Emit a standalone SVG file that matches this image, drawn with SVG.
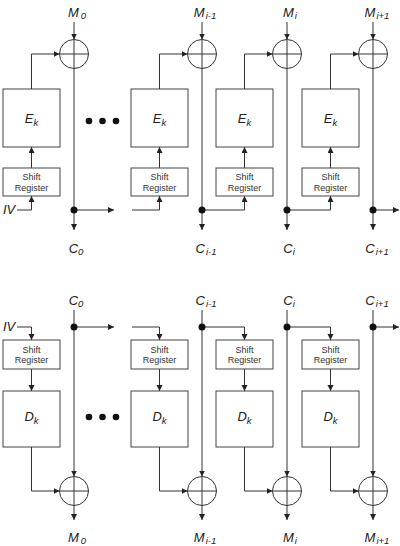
<svg xmlns="http://www.w3.org/2000/svg" width="400" height="546" viewBox="0 0 400 546">
<style>
.ln{fill:none;stroke:#333;stroke-width:1}
.bx{fill:#fff;stroke:#444;stroke-width:1}
.xo{fill:#fff;stroke:#333;stroke-width:1}
.dot{fill:#111}
.lbl{font-family:"Liberation Sans",Arial,sans-serif;font-style:italic;font-size:13px;fill:#222}
.sub{font-size:9.5px}
.sr{font-family:"Liberation Sans",Arial,sans-serif;font-size:9px;fill:#333;text-anchor:middle}
.fn{font-family:"Liberation Sans",Arial,sans-serif;font-style:italic;font-size:13px;fill:#222;text-anchor:middle}
</style>
<defs>
<marker id="ar" markerUnits="userSpaceOnUse" markerWidth="8" markerHeight="8" refX="6" refY="3" orient="auto">
<path d="M0,0 L6,3 L0,6 Z" fill="#222"/>
</marker>
</defs>
<rect width="400" height="546" fill="#fff"/>

<g id="connectors">
<path class="ln" d="M74,22 V39.5" marker-end="url(#ar)"/>
<path class="ln" d="M202,22 V39.5" marker-end="url(#ar)"/>
<path class="ln" d="M287,22 V39.5" marker-end="url(#ar)"/>
<path class="ln" d="M373,22 V39.5" marker-end="url(#ar)"/>
<path class="ln" d="M74,68.5 V230" marker-end="url(#ar)"/>
<path class="ln" d="M202,68.5 V230" marker-end="url(#ar)"/>
<path class="ln" d="M287,68.5 V230" marker-end="url(#ar)"/>
<path class="ln" d="M373,68.5 V230" marker-end="url(#ar)"/>
<path class="ln" d="M31.5,89 V54 H59.5" marker-end="url(#ar)"/>
<path class="ln" d="M159.5,89 V54 H187.5" marker-end="url(#ar)"/>
<path class="ln" d="M244.5,89 V54 H272.5" marker-end="url(#ar)"/>
<path class="ln" d="M330.5,89 V54 H358.5" marker-end="url(#ar)"/>
<path class="ln" d="M31.5,168 V147" marker-end="url(#ar)"/>
<path class="ln" d="M159.5,168 V147" marker-end="url(#ar)"/>
<path class="ln" d="M244.5,168 V147" marker-end="url(#ar)"/>
<path class="ln" d="M330.5,168 V147" marker-end="url(#ar)"/>
<path class="ln" d="M17,210 H31.5 V196" marker-end="url(#ar)"/>
<path class="ln" d="M132,210 H159.5 V196" marker-end="url(#ar)"/>
<path class="ln" d="M202,210 H244.5 V196" marker-end="url(#ar)"/>
<path class="ln" d="M287,210 H330.5 V196" marker-end="url(#ar)"/>
<path class="ln" d="M74,210 H114" marker-end="url(#ar)"/>
<path class="ln" d="M373,210 H399" marker-end="url(#ar)"/>
<path class="ln" d="M74,310 V476.5" marker-end="url(#ar)"/>
<path class="ln" d="M202,310 V476.5" marker-end="url(#ar)"/>
<path class="ln" d="M287,310 V476.5" marker-end="url(#ar)"/>
<path class="ln" d="M373,310 V476.5" marker-end="url(#ar)"/>
<path class="ln" d="M17,327 H31.5 V340" marker-end="url(#ar)"/>
<path class="ln" d="M132,327 H159.5 V340" marker-end="url(#ar)"/>
<path class="ln" d="M202,327 H244.5 V340" marker-end="url(#ar)"/>
<path class="ln" d="M287,327 H330.5 V340" marker-end="url(#ar)"/>
<path class="ln" d="M74,327 H114" marker-end="url(#ar)"/>
<path class="ln" d="M373,327 H399" marker-end="url(#ar)"/>
<path class="ln" d="M31.5,369 V391" marker-end="url(#ar)"/>
<path class="ln" d="M159.5,369 V391" marker-end="url(#ar)"/>
<path class="ln" d="M244.5,369 V391" marker-end="url(#ar)"/>
<path class="ln" d="M330.5,369 V391" marker-end="url(#ar)"/>
<path class="ln" d="M31.5,447 V491 H59.5" marker-end="url(#ar)"/>
<path class="ln" d="M159.5,447 V491 H187.5" marker-end="url(#ar)"/>
<path class="ln" d="M244.5,447 V491 H272.5" marker-end="url(#ar)"/>
<path class="ln" d="M330.5,447 V491 H358.5" marker-end="url(#ar)"/>
<path class="ln" d="M74,505.5 V520" marker-end="url(#ar)"/>
<path class="ln" d="M202,505.5 V520" marker-end="url(#ar)"/>
<path class="ln" d="M287,505.5 V520" marker-end="url(#ar)"/>
<path class="ln" d="M373,505.5 V520" marker-end="url(#ar)"/>
<circle class="dot" cx="74" cy="210" r="3.5"/>
<circle class="dot" cx="202" cy="210" r="3.5"/>
<circle class="dot" cx="287" cy="210" r="3.5"/>
<circle class="dot" cx="373" cy="210" r="3.5"/>
<circle class="dot" cx="74" cy="327" r="3.5"/>
<circle class="dot" cx="202" cy="327" r="3.5"/>
<circle class="dot" cx="287" cy="327" r="3.5"/>
<circle class="dot" cx="373" cy="327" r="3.5"/>
</g>

<g id="ellipsis-top">
<circle class="dot" cx="89" cy="121" r="3.3"/><circle class="dot" cx="102.5" cy="121" r="3.3"/><circle class="dot" cx="116" cy="121" r="3.3"/>
</g>
<g id="ellipsis-bottom">
<circle class="dot" cx="89" cy="417" r="3.3"/><circle class="dot" cx="102.5" cy="417" r="3.3"/><circle class="dot" cx="116" cy="417" r="3.3"/>
</g>

<g id="xor-e0"><circle class="xo" cx="74" cy="54" r="14.5"/><path class="ln" d="M59.5,54 H88.5 M74,39.5 V68.5"/></g>
<g id="xor-e1"><circle class="xo" cx="202" cy="54" r="14.5"/><path class="ln" d="M187.5,54 H216.5 M202,39.5 V68.5"/></g>
<g id="xor-e2"><circle class="xo" cx="287" cy="54" r="14.5"/><path class="ln" d="M272.5,54 H301.5 M287,39.5 V68.5"/></g>
<g id="xor-e3"><circle class="xo" cx="373" cy="54" r="14.5"/><path class="ln" d="M358.5,54 H387.5 M373,39.5 V68.5"/></g>
<g id="xor-d0"><circle class="xo" cx="74" cy="491" r="14.5"/><path class="ln" d="M59.5,491 H88.5 M74,476.5 V505.5"/></g>
<g id="xor-d1"><circle class="xo" cx="202" cy="491" r="14.5"/><path class="ln" d="M187.5,491 H216.5 M202,476.5 V505.5"/></g>
<g id="xor-d2"><circle class="xo" cx="287" cy="491" r="14.5"/><path class="ln" d="M272.5,491 H301.5 M287,476.5 V505.5"/></g>
<g id="xor-d3"><circle class="xo" cx="373" cy="491" r="14.5"/><path class="ln" d="M358.5,491 H387.5 M373,476.5 V505.5"/></g>

<g id="ek0"><rect class="bx" x="3" y="89" width="57" height="58"/><text class="fn" x="31.5" y="123">E<tspan class="sub" dy="3">k</tspan></text></g>
<g id="ek1"><rect class="bx" x="131" y="89" width="57" height="58"/><text class="fn" x="159.5" y="123">E<tspan class="sub" dy="3">k</tspan></text></g>
<g id="ek2"><rect class="bx" x="216" y="89" width="57" height="58"/><text class="fn" x="244.5" y="123">E<tspan class="sub" dy="3">k</tspan></text></g>
<g id="ek3"><rect class="bx" x="302" y="89" width="57" height="58"/><text class="fn" x="330.5" y="123">E<tspan class="sub" dy="3">k</tspan></text></g>
<g id="sre0"><rect class="bx" x="3" y="168" width="57" height="28"/><text class="sr" x="31.5" y="180">Shift</text><text class="sr" x="31.5" y="190.5">Register</text></g>
<g id="sre1"><rect class="bx" x="131" y="168" width="57" height="28"/><text class="sr" x="159.5" y="180">Shift</text><text class="sr" x="159.5" y="190.5">Register</text></g>
<g id="sre2"><rect class="bx" x="216" y="168" width="57" height="28"/><text class="sr" x="244.5" y="180">Shift</text><text class="sr" x="244.5" y="190.5">Register</text></g>
<g id="sre3"><rect class="bx" x="302" y="168" width="57" height="28"/><text class="sr" x="330.5" y="180">Shift</text><text class="sr" x="330.5" y="190.5">Register</text></g>
<g id="srd0"><rect class="bx" x="3" y="340" width="57" height="29"/><text class="sr" x="31.5" y="352.5">Shift</text><text class="sr" x="31.5" y="363">Register</text></g>
<g id="srd1"><rect class="bx" x="131" y="340" width="57" height="29"/><text class="sr" x="159.5" y="352.5">Shift</text><text class="sr" x="159.5" y="363">Register</text></g>
<g id="srd2"><rect class="bx" x="216" y="340" width="57" height="29"/><text class="sr" x="244.5" y="352.5">Shift</text><text class="sr" x="244.5" y="363">Register</text></g>
<g id="srd3"><rect class="bx" x="302" y="340" width="57" height="29"/><text class="sr" x="330.5" y="352.5">Shift</text><text class="sr" x="330.5" y="363">Register</text></g>
<g id="dk0"><rect class="bx" x="3" y="391" width="57" height="56"/><text class="fn" x="31.5" y="421">D<tspan class="sub" dy="3">k</tspan></text></g>
<g id="dk1"><rect class="bx" x="131" y="391" width="57" height="56"/><text class="fn" x="159.5" y="421">D<tspan class="sub" dy="3">k</tspan></text></g>
<g id="dk2"><rect class="bx" x="216" y="391" width="57" height="56"/><text class="fn" x="244.5" y="421">D<tspan class="sub" dy="3">k</tspan></text></g>
<g id="dk3"><rect class="bx" x="302" y="391" width="57" height="56"/><text class="fn" x="330.5" y="421">D<tspan class="sub" dy="3">k</tspan></text></g>

<g id="labels">
<text class="fn" x="77" y="17">M<tspan class="sub" dx="2" dy="2">0</tspan></text>
<text class="fn" x="205" y="17">M<tspan class="sub" dx="1" dy="2">i-1</tspan></text>
<text class="fn" x="290" y="17">M<tspan class="sub" dx="1" dy="2">i</tspan></text>
<text class="fn" x="377" y="17">M<tspan class="sub" dx="1" dy="2">i+1</tspan></text>
<text class="fn" x="76" y="253">C<tspan class="sub" dy="2">0</tspan></text>
<text class="fn" x="206" y="253">C<tspan class="sub" dx="1" dy="2">i-1</tspan></text>
<text class="fn" x="289" y="253">C<tspan class="sub" dy="2">i</tspan></text>
<text class="fn" x="377" y="253">C<tspan class="sub" dx="1" dy="2">i+1</tspan></text>
<text class="fn" x="76" y="305">C<tspan class="sub" dy="2">0</tspan></text>
<text class="fn" x="206" y="305">C<tspan class="sub" dx="1" dy="2">i-1</tspan></text>
<text class="fn" x="289" y="305">C<tspan class="sub" dy="2">i</tspan></text>
<text class="fn" x="377" y="305">C<tspan class="sub" dx="1" dy="2">i+1</tspan></text>
<text class="fn" x="77" y="542">M<tspan class="sub" dx="2" dy="2">0</tspan></text>
<text class="fn" x="205" y="542">M<tspan class="sub" dx="1" dy="2">i-1</tspan></text>
<text class="fn" x="290" y="542">M<tspan class="sub" dx="1" dy="2">i</tspan></text>
<text class="fn" x="377" y="542">M<tspan class="sub" dx="1" dy="2">i+1</tspan></text>
<text class="lbl" x="3" y="214">IV</text>
<text class="lbl" x="3" y="331">IV</text>
</g>
</svg>
